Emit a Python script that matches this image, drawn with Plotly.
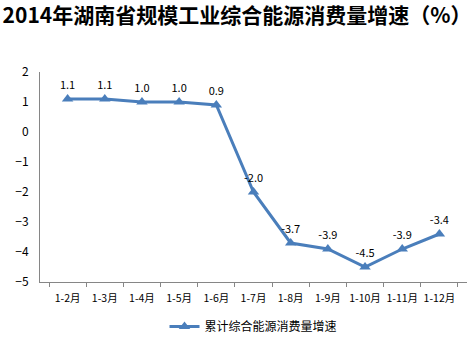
import plotly.graph_objects as go

categories = ["1-2月", "1-3月", "1-4月", "1-5月", "1-6月", "1-7月", "1-8月", "1-9月", "1-10月", "1-11月", "1-12月"]
values = [1.1, 1.1, 1.0, 1.0, 0.9, -2.0, -3.7, -3.9, -4.5, -3.9, -3.4]
labels = ["1.1", "1.1", "1.0", "1.0", "0.9", "-2.0", "-3.7", "-3.9", "-4.5", "-3.9", "-3.4"]
series_name = "累计综合能源消费量增速"
title = "2014年湖南省规模工业综合能源消费量增速（%）"

font_family = "Noto Sans CJK SC, Liberation Sans, sans-serif"
color = "#4A7EBB"

fig = go.Figure()
fig.add_trace(go.Scatter(
    x=categories, y=values, name=series_name,
    mode="lines+markers+text",
    text=labels, textposition="top center",
    textfont=dict(size=11, color="#000000", family=font_family),
    line=dict(color=color, width=3),
    marker=dict(symbol="triangle-up", size=10, color=color),
))

fig.update_layout(
    width=474, height=340,
    margin=dict(l=40, r=7, t=72, b=58, autoexpand=False),
    paper_bgcolor="white", plot_bgcolor="white",
    title=dict(text="<b>" + title + "</b>", x=0.5, xanchor="center", y=0.955, yanchor="middle",
               font=dict(size=21, color="#000000", family=font_family)),
    showlegend=True,
    legend=dict(orientation="h", x=0.5, xanchor="center", yref="container", y=0.04, yanchor="middle",
                font=dict(size=12, color="#000000", family=font_family)),
    font=dict(family=font_family, size=11, color="#000000"),
)
fig.update_xaxes(type="category", showline=True, linecolor="#868686", linewidth=1,
                 ticks="outside", tickson="boundaries", ticklen=4, tickcolor="#868686",
                 showgrid=False, tickangle=0, ticklabelstandoff=6, automargin=False,
                 tickfont=dict(size=10.5, color="#000000"))
fig.update_yaxes(range=[-5, 2], dtick=1, showline=True, linecolor="#868686", linewidth=1,
                 ticks="", showgrid=False, zeroline=False, ticklabelstandoff=8, automargin=False,
                 tickfont=dict(size=12, color="#000000"))

fig.write_html("out.html")
